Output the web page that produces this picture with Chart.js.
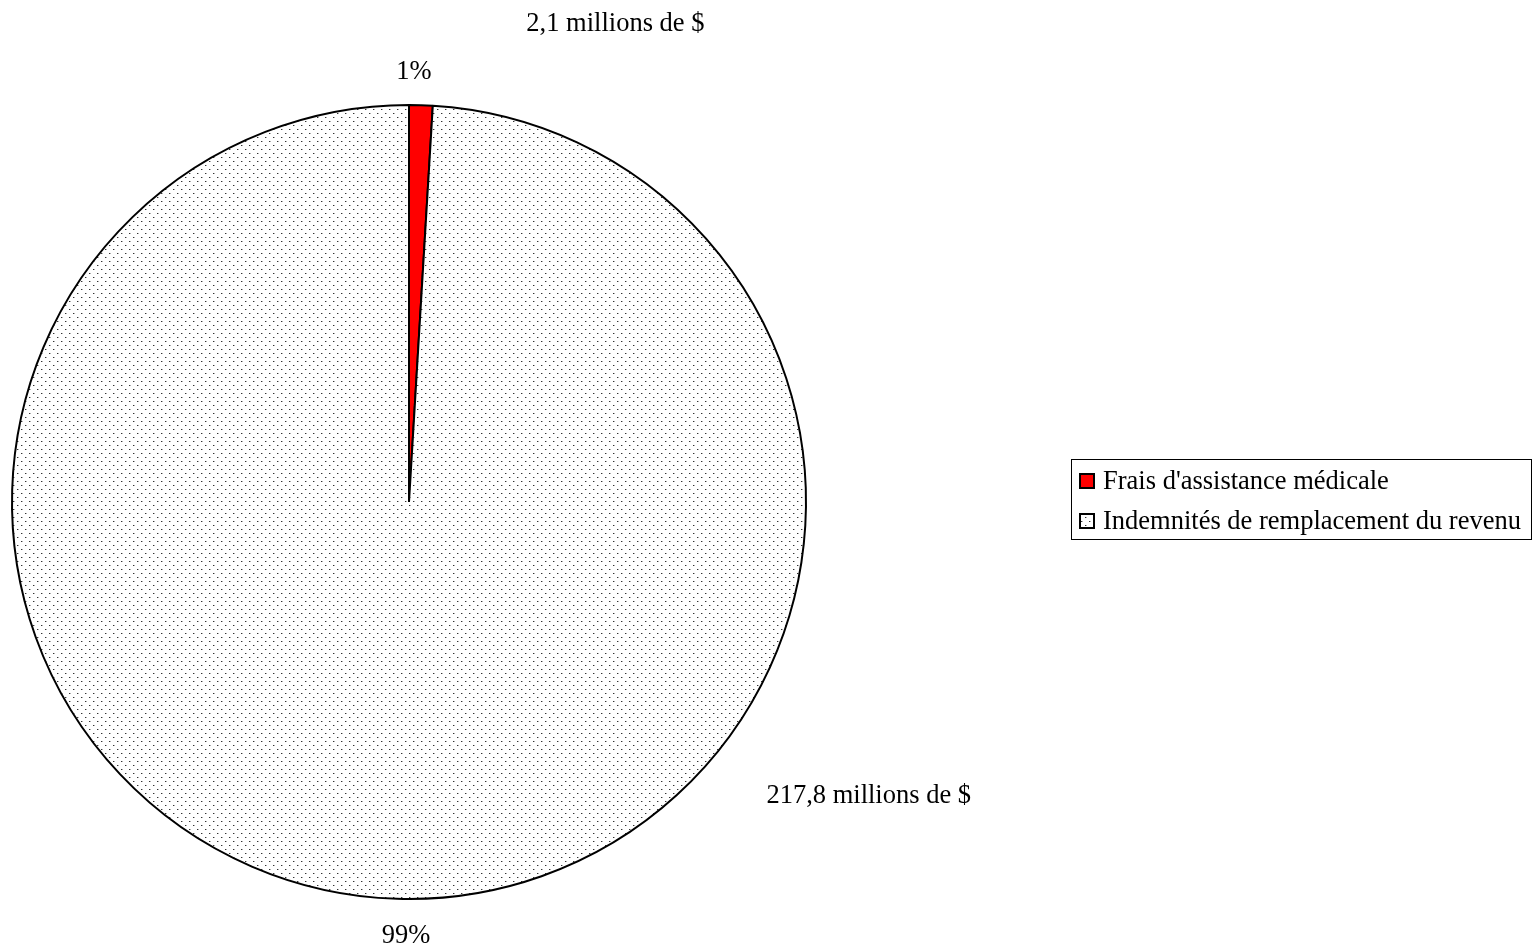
<!DOCTYPE html>
<html>
<head>
<meta charset="utf-8">
<script src="https://cdn.jsdelivr.net/npm/chart.js@4/dist/chart.umd.min.js"></script>
<style>
  html, body { margin: 0; padding: 0; background: #fff; }
  canvas { display: block; }
</style>
</head>
<body>
<canvas id="pieChart" width="1537" height="948"></canvas>
<script>
"use strict";

var categories = ["Frais d'assistance médicale", "Indemnités de remplacement du revenu"];
var amounts = [2.1, 217.8];            // millions de $
var amountLabels = ["2,1 millions de $", "217,8 millions de $"];
var percentLabels = ["1%", "99%"];

var FONT = "26.5px 'Liberation Serif', 'Times New Roman', serif";

/* dotted fill used for the large slice */
function dotPattern(ctx) {
    var tile = document.createElement('canvas');
    tile.width = 8;
    tile.height = 8;
    var t = tile.getContext('2d');
    t.fillStyle = '#ffffff';
    t.fillRect(0, 0, 8, 8);
    t.fillStyle = '#333333';
    t.fillRect(1, 1, 1, 1);
    t.fillRect(5, 5, 1, 1);
    t.fillStyle = '#b0b0b0';
    t.fillRect(2, 1, 1, 1);
    t.fillRect(6, 5, 1, 1);
    return ctx.createPattern(tile, 'repeat');
}

var ctx = document.getElementById("pieChart").getContext('2d');
var pattern = dotPattern(ctx);
var fills = ['#ff0000', pattern];

/* data labels around the pie */
var pieLabels = {
    id: 'pieLabels',
    afterDatasetsDraw: function(chart) {
        var c = chart.ctx;
        var arcs = chart.getDatasetMeta(0).data;
        var cx = arcs[0].x, cy = arcs[0].y + 2, r = arcs[0].outerRadius;
        c.save();
        c.font = FONT;
        c.fillStyle = '#000';
        c.textAlign = 'center';
        c.textBaseline = 'middle';
        // percentages just outside the arc, at each slice's middle angle
        arcs.forEach(function(arc, i) {
            var mid = (arc.startAngle + arc.endAngle) / 2;
            var d = r + 35;
            c.fillText(percentLabels[i], cx + Math.cos(mid) * d + (i === 1 ? 10 : -8), cy + Math.sin(mid) * d);
        });
        // amounts, pulled away from the pie
        c.fillText(amountLabels[0], cx + 0.52 * r, cy - 1.21 * r);
        c.fillText(amountLabels[1], cx + 1.158 * r, cy + 0.735 * r);
        c.restore();
    }
};

/* boxed legend on the right */
var boxLegend = {
    id: 'boxLegend',
    afterDraw: function(chart) {
        var c = chart.ctx;
        var x = 1071.5, y = 459.5, w = 460, h = 80;
        c.save();
        c.strokeStyle = '#000';
        c.lineWidth = 1;
        c.strokeRect(x, y, w, h);
        c.font = FONT;
        c.textBaseline = 'middle';
        c.textAlign = 'left';
        categories.forEach(function(label, i) {
            var rowY = 481 + i * 40;
            c.fillStyle = fills[i];
            c.fillRect(1080, rowY - 7, 14, 14);
            c.lineWidth = 2;
            c.strokeStyle = '#000';
            c.strokeRect(1080, rowY - 7, 14, 14);
            c.fillStyle = '#000';
            c.fillText(label, 1103, rowY + 1);
        });
        c.restore();
    }
};

var myPieChart = new Chart(ctx, {
    type: 'pie',
    data: {
        labels: categories,
        datasets: [{
            data: amounts,
            backgroundColor: fills,
            borderColor: '#000',
            borderWidth: 2,
            hoverOffset: 0
        }]
    },
    options: {
        responsive: false,
        animation: false,
        events: [],
        layout: {
            padding: { left: 11, top: 103, right: 730, bottom: 47 }
        },
        plugins: {
            legend: { display: false },
            tooltip: { enabled: false }
        }
    },
    plugins: [pieLabels, boxLegend]
});
</script>
</body>
</html>
